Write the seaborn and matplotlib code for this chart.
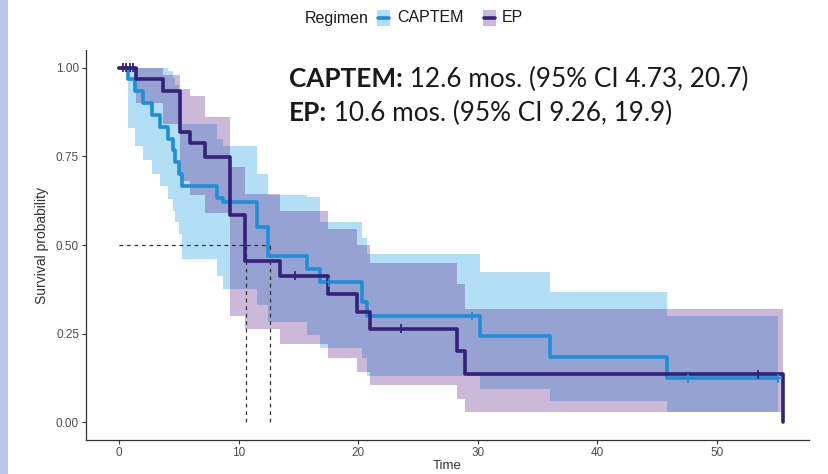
import numpy as np
import pandas as pd
import matplotlib
matplotlib.use("Agg")
import matplotlib.pyplot as plt
import seaborn as sns
from matplotlib.patches import Rectangle
from matplotlib.lines import Line2D

# ---------------- data ----------------
groups = ["CAPTEM", "EP"]

captem_time = [0, 0.75, 1.3, 2.0, 2.75, 3.4, 4.1, 4.5, 4.7, 5.0, 5.3, 8.2, 8.7,
               11.5, 12.5, 15.7, 16.8, 20.3, 20.7, 30.2, 36.0, 45.8, 55.1]
captem_surv = [1.0, 0.967, 0.933, 0.90, 0.867, 0.833, 0.80, 0.767, 0.733, 0.70,
               0.667, 0.633, 0.62, 0.55, 0.47, 0.433, 0.395, 0.34, 0.30, 0.242,
               0.185, 0.124, 0.124]
captem_lower = [1.0, 0.83, 0.78, 0.74, 0.70, 0.666, 0.63, 0.595, 0.565, 0.53,
                0.46, 0.413, 0.376, 0.33, 0.284, 0.245, 0.21, 0.18, 0.13, 0.095,
                0.06, 0.03, 0.03]
captem_upper = [1.0, 1.0, 1.0, 1.0, 1.0, 1.0, 0.99, 0.97, 0.95, 0.93,
                0.84, 0.80, 0.78, 0.70, 0.64, 0.635, 0.565, 0.52, 0.475, 0.424,
                0.368, 0.30, 0.30]
captem_censor = [17.6, 29.5, 47.6, 55.1]

ep_time = [0, 1.4, 3.7, 5.1, 5.9, 7.2, 9.3, 10.5, 13.5, 17.5, 19.9, 21.0,
           28.3, 28.9, 55.5]
ep_surv = [1.0, 0.967, 0.933, 0.82, 0.787, 0.747, 0.585, 0.455, 0.413, 0.362,
           0.31, 0.264, 0.2, 0.135, 0.0]
ep_lower = [1.0, 0.90, 0.84, 0.68, 0.64, 0.59, 0.30, 0.264, 0.22, 0.18,
            0.143, 0.104, 0.067, 0.03, 0.03]
ep_upper = [1.0, 1.0, 0.98, 0.94, 0.92, 0.86, 0.72, 0.643, 0.595, 0.545,
            0.50, 0.45, 0.39, 0.32, 0.32]
ep_censor = [0.3, 0.6, 0.9, 1.2, 14.7, 23.6, 53.4]

medians = [12.6, 10.6]   # CAPTEM, EP

x_ticks = [0, 10, 20, 30, 40, 50]
y_ticks = [0.00, 0.25, 0.50, 0.75, 1.00]
y_tick_labels = ["0.00", "0.25", "0.50", "0.75", "1.00"]

line_colors = {"CAPTEM": "#1e8fd6", "EP": "#35207a"}
fill_colors = {"CAPTEM": "#0298de", "EP": "#581680"}

# ---------------- build tables ----------------
curves = pd.concat([
    pd.DataFrame({"time": captem_time, "surv": captem_surv,
                  "lower": captem_lower, "upper": captem_upper, "Regimen": "CAPTEM"}),
    pd.DataFrame({"time": ep_time, "surv": ep_surv,
                  "lower": ep_lower, "upper": ep_upper, "Regimen": "EP"}),
], ignore_index=True)


def step_value(times, vals, t):
    i = np.searchsorted(np.asarray(times), t, side="right") - 1
    return vals[max(i, 0)]


censor = pd.DataFrame({
    "time": captem_censor + ep_censor,
    "surv": [step_value(captem_time, captem_surv, t) for t in captem_censor]
            + [step_value(ep_time, ep_surv, t) for t in ep_censor],
    "Regimen": ["CAPTEM"] * len(captem_censor) + ["EP"] * len(ep_censor),
})

# ---------------- figure ----------------
sns.set_style("ticks")
plt.rcParams["font.family"] = ["Liberation Sans", "DejaVu Sans"]

W, H = 829, 474
fig = plt.figure(figsize=(W / 100, H / 100), dpi=100)
ax = fig.add_axes([86 / W, 34 / H, (809 - 86) / W, (440 - 50) / H])

# left decorative strip
fig.add_artist(Rectangle((0, 0), 8 / W, 1, transform=fig.transFigure,
                         facecolor="#b7c7ea", edgecolor="none"))

# confidence bands
for g in groups:
    d = curves[curves.Regimen == g]
    ax.fill_between(d["time"], d["lower"], d["upper"], step="post",
                    color=fill_colors[g], alpha=0.3, linewidth=0)

# median dashed lines
ax.plot([0, max(medians)], [0.5, 0.5], ls=(0, (3, 3)), color="#333333", lw=0.9)
for m in medians:
    ax.plot([m, m], [0, 0.5], ls=(0, (3, 3)), color="#333333", lw=0.9)

# survival curves
sns.lineplot(data=curves, x="time", y="surv", hue="Regimen", palette=line_colors,
             drawstyle="steps-post", estimator=None, sort=False, linewidth=2.6,
             legend=False, ax=ax)
sns.scatterplot(data=censor, x="time", y="surv", hue="Regimen", palette=line_colors,
                marker="+", s=40, linewidth=1.3, legend=False, ax=ax, zorder=5)

ax.set_xlim(-2.76, 57.7)
ax.set_ylim(-0.05, 1.05)
ax.set_xticks(x_ticks)
ax.set_yticks(y_ticks)
ax.set_yticklabels(y_tick_labels)
ax.tick_params(axis="both", labelsize=8.5, labelcolor="#4d4d4d", length=3,
               width=0.8, pad=2, color="#333333")
for s in ["left", "bottom"]:
    ax.spines[s].set_color("#333333")
    ax.spines[s].set_linewidth(0.9)
sns.despine(ax=ax)
ax.set_xlabel("Time", fontsize=9.5, color="#333333", labelpad=1)
ax.set_ylabel("Survival probability", fontsize=10, color="#333333", labelpad=5)

# annotation text (bold group name + regular rest)
fig.canvas.draw()
r = fig.canvas.get_renderer()
ann = [("CAPTEM:", " 12.6 mos. (95% CI 4.73, 20.7)", 87),
       ("EP:", " 10.6 mos. (95% CI 9.26, 19.9)", 121)]
for bold, rest, ybase in ann:
    t1 = fig.text(289 / W, 1 - ybase / H, bold, fontsize=18.8, fontweight="bold",
                  family=["Lato", "DejaVu Sans"], color="#1a1a1a", va="baseline")
    bb = t1.get_window_extent(r)
    fig.text(bb.x1 / W, 1 - ybase / H, rest, fontsize=18.8,
             family=["Lato", "DejaVu Sans"], color="#1a1a1a", va="baseline")

# legend at top
ly = 1 - 18 / H
fig.text(305 / W, ly, "Regimen", fontsize=11.5, va="center", color="#1a1a1a")
keys = [("CAPTEM", 377, 397), ("EP", 483, 502)]
for g, kx, tx in keys:
    fig.add_artist(Rectangle((kx / W, 1 - 26 / H), 13 / W, 16 / H,
                             transform=fig.transFigure, facecolor=fill_colors[g],
                             alpha=0.3, edgecolor="none"))
    fig.add_artist(Line2D([(kx + 1) / W, (kx + 12) / W], [ly, ly],
                          transform=fig.transFigure, color=line_colors[g], lw=2.6))
    fig.text(tx / W, ly, g, fontsize=11.5, va="center", color="#1a1a1a")

fig.savefig("out.png", dpi=100)
